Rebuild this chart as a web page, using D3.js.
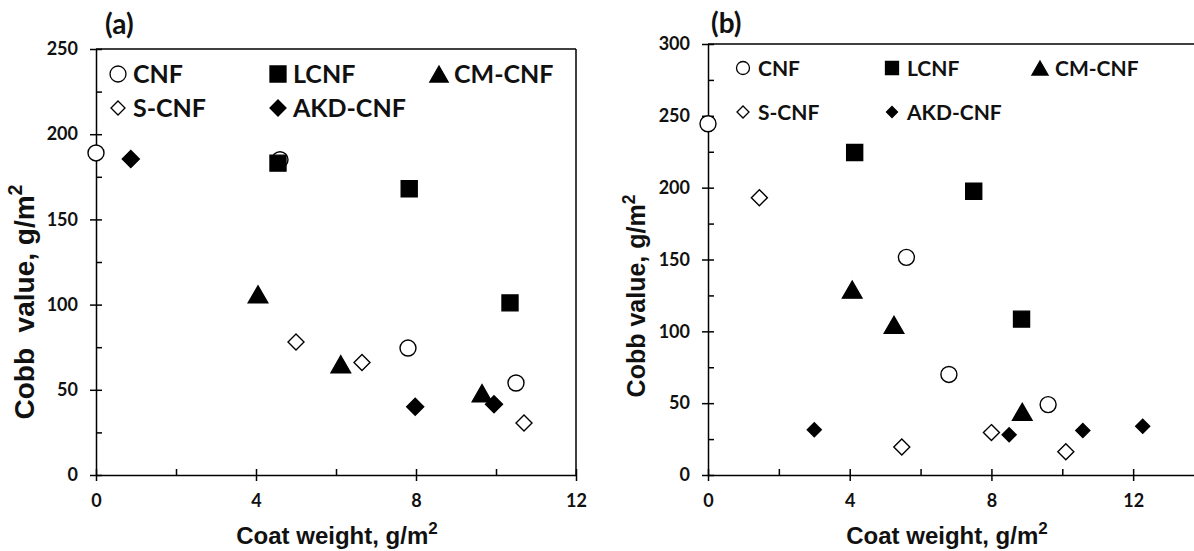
<!DOCTYPE html>
<html>
<head>
<meta charset="utf-8">
<script src="https://d3js.org/d3.v7.min.js"></script>
<style>
body { margin: 0; background: #fff; }
svg { display: block; }
</style>
</head>
<body>
<svg width="1194" height="551"></svg>
<script>
// panel (a) values [coat weight, cobb value]
var aCNF  = [[0, 189], [4.6, 185], [7.8, 74.5], [10.5, 54]];
var aLCNF = [[4.55, 183], [7.83, 168], [10.35, 101]];
var aCM   = [[4.05, 106], [6.12, 65], [9.65, 48]];
var aS    = [[5.0, 78], [6.65, 66], [10.7, 30.5]];
var aAKD  = [[0.87, 185.5], [7.98, 40], [9.95, 41.5]];

// panel (b) values
var bCNF  = [[0, 244.5], [5.6, 151.5], [6.8, 70], [9.6, 49]];
var bLCNF = [[4.14, 224.5], [7.5, 197.5], [8.85, 108.5]];
var bCM   = [[4.07, 129], [5.25, 104.5], [8.87, 44]];
var bS    = [[1.45, 193], [5.47, 19.5], [8.0, 29.5], [10.1, 16.2]];
var bAKD  = [[3.0, 31.5], [8.5, 28], [10.58, 31], [12.27, 34]];

var seriesNames = ["CNF", "LCNF", "CM-CNF", "S-CNF", "AKD-CNF"];
var xMajor = [0, 4, 8, 12];
var xMinorA = [2, 6, 10];
var xMinorB = [2, 6, 10, 14];
var yMajorA = [0, 50, 100, 150, 200, 250];
var yMinorA = [25, 75, 125, 175, 225];
var yMajorB = [0, 50, 100, 150, 200, 250, 300];
var yMinorB = [25, 75, 125, 175, 225, 275];

var svg = d3.select("svg");
var tickFont = "Lato, 'Open Sans', sans-serif";
var titleFont = "'Liberation Sans', Arial, sans-serif";

// marker path, centred on 0,0
function marker(type, s) {
  if (type == "circle") {
    var r = s / 2;
    return "M" + (-r) + ",0A" + r + "," + r + " 0 1,0 " + r + ",0A" + r + "," + r + " 0 1,0 " + (-r) + ",0Z";
  }
  if (type == "square") return "M" + (-s/2) + "," + (-s/2) + "h" + s + "v" + s + "h" + (-s) + "Z";
  if (type == "triangle") {
    var w = s * 1.15;
    return "M0," + (-s/2) + "L" + (w/2) + "," + (s/2) + "L" + (-w/2) + "," + (s/2) + "Z";
  }
  return "M0," + (-s/2) + "L" + (s/2) + ",0L0," + (s/2) + "L" + (-s/2) + ",0Z";
}

var styles = [
  {type: "circle", fill: "#fff"},
  {type: "square", fill: "#000"},
  {type: "triangle", fill: "#000"},
  {type: "diamond", fill: "#fff"},
  {type: "diamond", fill: "#000"}
];

function drawPanel(p) {
  var g = svg.append("g");
  var x = p.x, y = p.y;

  // frame
  g.append("line").attr("x1", x.range()[0]).attr("x2", x.range()[1])
    .attr("y1", y.range()[1]).attr("y2", y.range()[1])
    .attr("stroke", "#000").attr("stroke-width", 1.5);
  g.append("line").attr("x1", x.range()[1]).attr("x2", x.range()[1])
    .attr("y1", y.range()[0]).attr("y2", y.range()[1])
    .attr("stroke", "#000").attr("stroke-width", 1.5);

  // x axis
  var xa = g.append("g").attr("transform", "translate(0," + y(0) + ")")
    .call(d3.axisBottom(x).tickValues(xMajor).tickSize(6).tickPadding(13).tickSizeOuter(0));
  xa.selectAll(".tick line").attr("y1", -6);
  g.append("g").attr("transform", "translate(0," + y(0) + ")")
    .call(d3.axisBottom(x).tickValues(p.xMinor).tickSize(-6).tickFormat(""))
    .select(".domain").remove();

  // y axis
  var ya = g.append("g").attr("transform", "translate(" + x(0) + ",0)")
    .call(d3.axisLeft(y).tickValues(p.yMajor).tickSize(6).tickPadding(12).tickSizeOuter(0));
  ya.selectAll(".tick line").attr("x1", 6);
  g.append("g").attr("transform", "translate(" + x(0) + ",0)")
    .call(d3.axisLeft(y).tickValues(p.yMinor).tickSize(-6).tickFormat(""))
    .select(".domain").remove();

  g.selectAll(".domain, .tick line").attr("stroke", "#000").attr("stroke-width", 1.5);
  g.selectAll(".tick text").attr("font-family", tickFont).attr("font-weight", "bold")
    .attr("font-size", 18).attr("fill", "#111");

  // points
  p.series.forEach(function (data, i) {
    var st = styles[i];
    var s = p.sizes[i];
    g.selectAll(null).data(data).enter().append("path")
      .attr("d", marker(st.type, s))
      .attr("transform", function (d) { return "translate(" + x(d[0]) + "," + y(d[1]) + ")"; })
      .attr("fill", st.fill).attr("stroke", "#000").attr("stroke-width", 1.4);
  });

  // legend
  seriesNames.forEach(function (name, i) {
    var col = i % 3, row = Math.floor(i / 3);
    var lx = p.legX[col], ly = p.legY[row];
    var st = styles[i];
    g.append("path").attr("d", marker(st.type, p.legSizes[i]))
      .attr("transform", "translate(" + lx + "," + ly + ")")
      .attr("fill", st.fill).attr("stroke", "#000").attr("stroke-width", 1.3);
    g.append("text").attr("x", lx + p.legGap).attr("y", ly).attr("dy", "0.36em")
      .attr("font-family", tickFont).attr("font-weight", "bold")
      .attr("font-size", p.legFont).attr("fill", "#111").text(name);
  });

  // titles
  var xt = g.append("text").attr("x", p.xTitle[0]).attr("y", p.xTitle[1])
    .attr("text-anchor", "middle").attr("font-family", titleFont).attr("font-weight", "bold")
    .attr("font-size", 24).attr("fill", "#111");
  xt.append("tspan").text("Coat weight, g/m");
  xt.append("tspan").attr("font-size", 17).attr("dy", -10).text("2");

  var yt = g.append("text")
    .attr("transform", "translate(" + p.yTitle[0] + "," + p.yTitle[1] + ") rotate(-90)")
    .attr("text-anchor", "middle").attr("font-family", titleFont).attr("font-weight", "bold")
    .attr("font-size", p.yTitleSize).attr("fill", "#111").attr("xml:space", "preserve");
  yt.append("tspan").text(p.yTitleText);
  yt.append("tspan").attr("font-size", p.yTitleSize * 0.7).attr("dy", -p.yTitleSize * 0.42).text("2");

  g.append("text").attr("x", p.tag[0]).attr("y", p.tag[1])
    .attr("font-family", tickFont).attr("font-weight", "bold")
    .attr("font-size", 28).attr("fill", "#111").text(p.tagText);
}

drawPanel({
  x: d3.scaleLinear().domain([0, 12]).range([96, 576]),
  y: d3.scaleLinear().domain([0, 250]).range([475, 49]),
  xMinor: xMinorA, yMajor: yMajorA, yMinor: yMinorA,
  series: [aCNF, aLCNF, aCM, aS, aAKD],
  sizes: [16, 16, 17, 16, 17],
  legX: [118, 278, 439], legY: [74, 108], legGap: 15, legFont: 25,
  legSizes: [16, 16, 16, 14, 16],
  xTitle: [337, 544], yTitle: [34, 302], yTitleSize: 28, yTitleText: "Cobb  value, g/m",
  tag: [105, 34], tagText: "(a)"
});

drawPanel({
  x: d3.scaleLinear().domain([0, 14]).range([708, 1204]),
  y: d3.scaleLinear().domain([0, 300]).range([475, 44]),
  xMinor: xMinorB, yMajor: yMajorB, yMinor: yMinorB,
  series: [bCNF, bLCNF, bCM, bS, bAKD],
  sizes: [16, 16, 17, 16, 14],
  legX: [743, 892, 1040], legY: [68, 112], legGap: 15, legFont: 21,
  legSizes: [13, 13, 14, 12, 11],
  xTitle: [947, 544], yTitle: [645, 296], yTitleSize: 25, yTitleText: "Cobb value, g/m",
  tag: [711, 33], tagText: "(b)"
});
</script>
</body>
</html>
